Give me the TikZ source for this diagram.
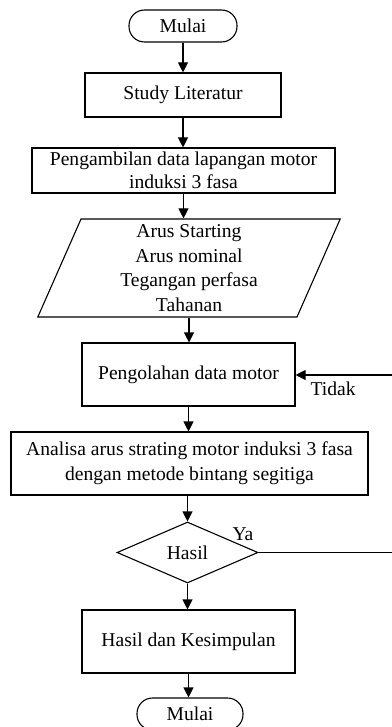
\documentclass[tikz,border=0pt]{standalone}
\usepackage{fontspec}
\setmainfont{Liberation Serif}
\usetikzlibrary{shapes.geometric,arrows.meta}
\begin{document}
\begin{tikzpicture}[x=1pt,y=-1pt,
  every node/.style={font=\fontsize{19.6}{24}\selectfont, align=center, inner sep=0pt, line width=1.1pt},
  procbox/.style={draw, rectangle},
  termbox/.style={draw, rectangle, rounded corners=15.5pt},
  iobox/.style={draw, trapezium, trapezium left angle=72.4, trapezium right angle=107.6, trapezium stretches=true},
  decbox/.style={draw, diamond, aspect=2.31},
  arr/.style={line width=1.1pt, -{Triangle[length=10pt,width=10pt]}},
  ln/.style={line width=1.1pt}]
\useasboundingbox (0,0) rectangle (391,727);
\node[termbox, minimum width=108pt, minimum height=32pt] (start) at (183,26) {Mulai};
\node[procbox, minimum width=196pt, minimum height=44pt] (study) at (183,95) {Study Literatur};
\node[procbox, minimum width=303pt, minimum height=45pt, font=\fontsize{19.6}{23}\selectfont] (ambil) at (183.5,170.5) {Pengambilan data lapangan motor\\induksi 3 fasa};
\node[iobox, minimum width=303pt, minimum height=98pt, font=\fontsize{19.6}{24.5}\selectfont] (inp) at (189,268) {Arus Starting\\Arus nominal\\Tegangan perfasa\\Tahanan};
\node[procbox, minimum width=213pt, minimum height=63pt] (proc) at (188.5,374.5) {Pengolahan data motor};
\node[procbox, minimum width=357pt, minimum height=63pt, font=\fontsize{19.6}{25}\selectfont] (anal) at (189.5,463.5) {Analisa arus strating motor induksi 3 fasa\\dengan metode bintang segitiga};
\node[decbox, minimum width=141pt, minimum height=61pt] (dec) at (187.5,552.5) {Hasil};
\node[procbox, minimum width=213pt, minimum height=63pt] (res) at (188.5,641.5) {Hasil dan Kesimpulan};
\node[termbox, minimum width=106pt, minimum height=32pt] (fin) at (190,714) {Mulai};
\coordinate (c1) at (394,552.5);
\coordinate (c2) at (394,375);
\node[anchor=west] (tidak) at (310,389) {Tidak};
\node (ya) at (243,534) {Ya};
\draw[arr] (start.south) -- (start.south |- study.north);
\draw[arr] (study.south) -- (study.south |- ambil.north);
\draw[arr] (ambil.south) -- (ambil.south |- inp.north);
\draw[arr] (inp.south) -- (inp.south |- proc.north);
\draw[arr] (proc.south) -- (proc.south |- anal.north);
\draw[arr] (anal.south -| dec.north) -- (dec.north);
\draw[arr] (dec.south) -- (dec.south |- res.north);
\draw[arr] (res.south) -- (res.south |- fin.north);
\draw[ln] (dec.east) -- (c1) -- (c2);
\draw[arr] (c2) -- (c2 -| proc.east);
\end{tikzpicture}
\end{document}
